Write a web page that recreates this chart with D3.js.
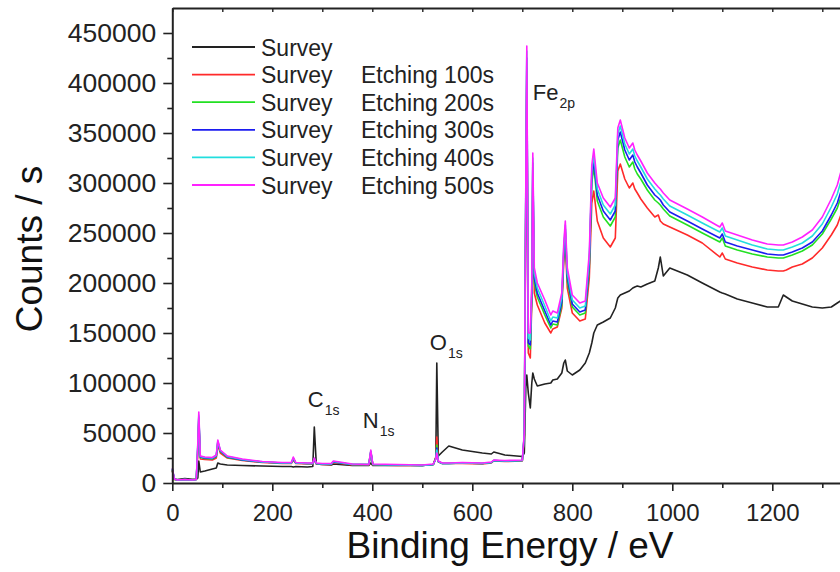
<!DOCTYPE html>
<html lang="en">
<head>
<meta charset="UTF-8">
<title>XPS survey spectra</title>
<script src="https://d3js.org/d3.v7.min.js"></script>
<style>
  body { margin: 0; background: #fff; }
  svg { display: block; font-family: "Liberation Sans", Arial, sans-serif; }
  .axis path, .axis line { stroke: #222; }
  .axis text { fill: #222; }
</style>
</head>
<body>
<svg id="chart" width="840" height="572"></svg>
<script>
// binding energy grid (eV), shared by all spectra
const energy = [0, 4, 10, 25, 40, 48, 51, 53, 56, 65, 80, 88, 91, 96, 110, 140, 180, 220, 238, 242,
  247, 270, 281, 284, 288, 300, 318, 322, 360, 393, 397, 401, 450, 500, 522, 527, 529, 532, 540, 553,
  580, 620, 638, 643, 665, 700, 704, 707, 709, 712, 716, 719, 721, 724, 730, 745, 757, 761, 770, 779,
  783, 786, 790, 800, 815, 826, 834, 839, 843, 850, 862, 876, 886, 891, 896, 905, 914, 921, 925, 930,
  937, 950, 965, 972, 976, 982, 995, 1030, 1060, 1095, 1100, 1106, 1130, 1160, 1190, 1212, 1222, 1228, 1240, 1260,
  1280, 1300, 1318, 1330, 1342];

// counts / s
const survey = [12000, 4000, 3500, 4500, 3800, 4000, 5000, 22000, 11000, 12000, 14000, 15000, 20000, 19000, 18000, 17500, 17000, 16500, 16500, 16000,
  16500, 16000, 16500, 56000, 19000, 18500, 18000, 19000, 17500, 17500, 20000, 17500, 17500, 17500, 18500, 25000, 120000, 27000, 31000, 37000,
  33000, 30000, 29000, 31000, 28000, 26500, 30000, 95000, 108000, 90000, 75000, 100000, 110000, 104000, 97000, 99000, 100000, 103000, 104000, 110000,
  120000, 123000, 112000, 108000, 113000, 120000, 130000, 140000, 150000, 158000, 161000, 165000, 175000, 185000, 188000, 190000, 192000, 195000, 196000, 197000,
  196000, 199000, 202000, 215000, 226000, 207000, 215000, 208000, 200000, 191000, 190000, 189000, 184000, 180000, 176000, 176000, 188000, 186000, 182000, 179000,
  176000, 175000, 176000, 180000, 184000];

const etch100 = [13000, 3500, 3000, 3500, 3000, 3500, 30000, 60000, 24000, 23500, 23000, 25000, 38000, 30000, 25000, 22500, 20500, 19500, 19500, 23000,
  19500, 19000, 19000, 23000, 19000, 18500, 18500, 20500, 18000, 18000, 30000, 18000, 17500, 17500, 18500, 26000, 46000, 21000, 19500, 19500,
  19500, 19000, 20000, 22000, 21500, 22000, 45000, 270000, 400000, 130000, 125000, 180000, 300000, 190000, 178000, 160000, 150000, 154000, 156000, 175000,
  222000, 240000, 195000, 170000, 162000, 164000, 205000, 280000, 292000, 262000, 245000, 236000, 245000, 312000, 319000, 304000, 295000, 300000, 294000, 290000,
  284000, 275000, 266000, 268000, 262000, 259000, 256000, 248000, 240000, 226000, 230000, 224000, 220000, 216000, 213000, 212000, 212000, 213000, 216000, 219000,
  225000, 235000, 248000, 258000, 275000];

const etch200 = [13500, 3500, 3000, 3500, 3000, 3500, 34000, 64000, 25500, 24500, 24000, 26500, 40000, 31500, 25500, 23000, 21000, 20000, 20000, 24000,
  20000, 19500, 19500, 23500, 19500, 19000, 19000, 21000, 18500, 18500, 31000, 18500, 18000, 17500, 18500, 25000, 38000, 21500, 19500, 19500,
  20000, 19500, 20500, 22500, 22000, 22500, 47000, 285000, 415000, 137000, 134000, 187000, 315000, 200000, 186000, 168000, 155000, 159000, 158000, 178000,
  229000, 250000, 202000, 176000, 168000, 170000, 215000, 300000, 316000, 282000, 266000, 257000, 266000, 335000, 343000, 326000, 316000, 321000, 314000, 309000,
  304000, 293000, 283000, 280000, 278000, 274000, 267000, 258000, 250000, 241000, 245000, 237000, 233000, 229000, 226000, 225000, 225000, 226000, 228000, 232000,
  238000, 249000, 264000, 275000, 293000];

const etch300 = [14000, 4000, 3000, 3500, 3000, 3500, 36000, 66000, 26000, 25000, 24500, 27000, 41000, 32000, 26000, 23000, 21000, 20000, 20000, 24500,
  20000, 19500, 19500, 24000, 19500, 19000, 19000, 21000, 18500, 18500, 31500, 18500, 18000, 17500, 18500, 24500, 35000, 21500, 19500, 19500,
  20000, 19500, 20500, 22500, 22000, 22500, 48000, 290000, 425000, 140000, 138000, 190000, 320000, 205000, 190000, 172000, 158000, 162000, 161000, 181000,
  232000, 254000, 206000, 179000, 171000, 173000, 219000, 306000, 322000, 288000, 272000, 263000, 272000, 343000, 351000, 333000, 323000, 328000, 321000, 316000,
  310000, 298000, 288000, 285000, 283000, 278000, 271000, 262000, 254000, 245000, 249000, 241000, 237000, 233000, 229000, 228000, 228000, 229000, 231000, 235000,
  241000, 252000, 268000, 280000, 299000];

const etch400 = [14500, 4000, 3000, 3500, 3000, 3500, 38000, 68000, 26500, 25500, 25000, 27500, 42000, 32500, 26500, 23500, 21000, 20000, 20000, 25000,
  20000, 19500, 19500, 24500, 19500, 19000, 19000, 21500, 18500, 18500, 32000, 18500, 18000, 17500, 18500, 24000, 33000, 21500, 19500, 19500,
  20000, 19500, 20500, 22500, 22000, 22500, 49000, 295000, 432000, 145000, 143000, 195000, 325000, 210000, 195000, 177000, 162000, 166000, 165000, 185000,
  236000, 258000, 210000, 183000, 175000, 177000, 224000, 312000, 328000, 294000, 278000, 269000, 278000, 349000, 357000, 339000, 329000, 334000, 327000, 322000,
  316000, 304000, 294000, 290000, 288000, 284000, 277000, 268000, 260000, 251000, 255000, 247000, 243000, 238000, 234000, 233000, 233000, 234000, 236000, 240000,
  247000, 259000, 276000, 289000, 310000];

const etch500 = [15000, 4000, 3000, 3500, 3000, 3500, 40000, 71000, 27000, 26000, 25500, 28000, 43000, 33000, 27000, 24000, 21500, 20500, 20500, 26000,
  20500, 20000, 20000, 25000, 20000, 19500, 19500, 22000, 19000, 18500, 33000, 19000, 18500, 18000, 19000, 24000, 30000, 22000, 20000, 20000,
  20500, 20000, 21000, 23000, 22500, 23000, 50000, 300000, 437000, 150000, 150000, 200000, 330000, 215000, 200000, 183000, 168000, 172000, 170000, 190000,
  240000, 262000, 215000, 188000, 180000, 182000, 230000, 318000, 334000, 300000, 285000, 276000, 285000, 355000, 363000, 345000, 335000, 340000, 333000, 328000,
  322000, 310000, 300000, 296000, 294000, 290000, 283000, 274000, 266000, 256000, 260000, 252000, 248000, 243000, 239000, 238000, 238000, 239000, 241000, 246000,
  253000, 266000, 284000, 298000, 320000];

const seriesValues = [survey, etch100, etch200, etch300, etch400, etch500];
const seriesColors = ["#222222", "#ff2a2a", "#22e022", "#1c1cf0", "#22dede", "#ff22ff"];
const legendFirst = ["Survey", "Survey", "Survey", "Survey", "Survey", "Survey"];
const legendSecond = ["", "Etching 100s", "Etching 200s", "Etching 300s", "Etching 400s", "Etching 500s"];

const xTicks = [0, 200, 400, 600, 800, 1000, 1200];
const xMinor = [100, 300, 500, 700, 900, 1100, 1300];
const yTicks = [0, 50000, 100000, 150000, 200000, 250000, 300000, 350000, 400000, 450000];
const yMinor = [25000, 75000, 125000, 175000, 225000, 275000, 325000, 375000, 425000];

// peak annotations: element, orbital, label anchor (eV, counts)
const peakNames = ["C", "N", "O", "Fe"];
const peakOrbitals = ["1s", "1s", "1s", "2p"];
const peakEnergy = [271, 381, 515, 721];
const peakCounts = [76000, 55000, 133000, 383000];

const svg = d3.select("#chart");

const x = d3.scaleLinear().domain([0, 1400]).range([172.3, 872.3]);
const y = d3.scaleLinear().domain([0, 475000]).range([483, 8]);

// spectra
const line = d3.line()
  .x((d, i) => x(energy[i]))
  .y(d => y(d));

svg.append("g")
  .selectAll("path")
  .data(seriesValues)
  .join("path")
  .attr("d", line)
  .attr("fill", "none")
  .attr("stroke", (d, i) => seriesColors[i])
  .attr("stroke-width", 1.6)
  .attr("stroke-linejoin", "round");

// bottom axis
const xAxis = svg.append("g")
  .attr("class", "axis")
  .attr("transform", "translate(0,483)")
  .call(d3.axisBottom(x).tickValues(xTicks).tickSize(8).tickSizeOuter(0).tickFormat(d3.format("d")));
xAxis.select(".domain").attr("stroke-width", 2);
xAxis.selectAll(".tick line").attr("stroke-width", 1.6);
xAxis.selectAll("text").attr("font-size", 24).attr("y", 21).attr("dy", "0.71em");

svg.append("g")
  .attr("class", "axis")
  .attr("transform", "translate(0,483)")
  .call(d3.axisBottom(x).tickValues(xMinor).tickSize(5).tickFormat(""))
  .call(g => g.select(".domain").remove())
  .selectAll("line").attr("stroke-width", 1.6);

// left axis
const yAxis = svg.append("g")
  .attr("class", "axis")
  .attr("transform", "translate(172.3,0)")
  .call(d3.axisLeft(y).tickValues(yTicks).tickSize(9).tickSizeOuter(0).tickPadding(7).tickFormat(d3.format("d")));
yAxis.select(".domain").attr("stroke-width", 2);
yAxis.selectAll(".tick line").attr("stroke-width", 1.6);
yAxis.selectAll("text").attr("font-size", 26.5);

svg.append("g")
  .attr("class", "axis")
  .attr("transform", "translate(172.3,0)")
  .call(d3.axisLeft(y).tickValues(yMinor).tickSize(5).tickFormat(""))
  .call(g => g.select(".domain").remove())
  .selectAll("line").attr("stroke-width", 1.6);

// top frame with inward ticks
const topAxis = svg.append("g")
  .attr("class", "axis")
  .attr("transform", "translate(0,8)")
  .call(d3.axisBottom(x).tickValues(xTicks.concat(xMinor)).tickSize(4).tickSizeOuter(0).tickFormat(""));
topAxis.select(".domain").attr("stroke-width", 2);
topAxis.selectAll("line").attr("stroke-width", 1.4);

// axis titles
svg.append("text")
  .attr("x", 510).attr("y", 558)
  .attr("text-anchor", "middle")
  .attr("font-size", 37)
  .attr("fill", "#111")
  .text("Binding Energy / eV");

svg.append("text")
  .attr("transform", "translate(42,249) rotate(-90)")
  .attr("text-anchor", "middle")
  .attr("font-size", 37)
  .attr("fill", "#111")
  .text("Counts / s");

// legend
const legend = svg.append("g").attr("transform", "translate(192,47)");
const rows = legend.selectAll("g")
  .data(seriesColors)
  .join("g")
  .attr("transform", (d, i) => `translate(0,${i * 27.6})`);
rows.append("line")
  .attr("x1", 0).attr("x2", 63)
  .attr("stroke", d => d)
  .attr("stroke-width", 1.8);
rows.append("text")
  .attr("x", 69).attr("y", 8.5)
  .attr("font-size", 23)
  .attr("fill", "#222")
  .text((d, i) => legendFirst[i]);
rows.append("text")
  .attr("x", 169).attr("y", 8.5)
  .attr("font-size", 23)
  .attr("fill", "#222")
  .text((d, i) => legendSecond[i]);

// peak labels
const peaks = svg.append("g")
  .selectAll("text")
  .data(peakNames)
  .join("text")
  .attr("x", (d, i) => x(peakEnergy[i]))
  .attr("y", (d, i) => y(peakCounts[i]))
  .attr("font-size", 22)
  .attr("fill", "#222");
peaks.append("tspan").text(d => d);
peaks.append("tspan")
  .attr("dx", 1).attr("dy", 8)
  .attr("font-size", 14)
  .text((d, i) => peakOrbitals[i]);
</script>
</body>
</html>
